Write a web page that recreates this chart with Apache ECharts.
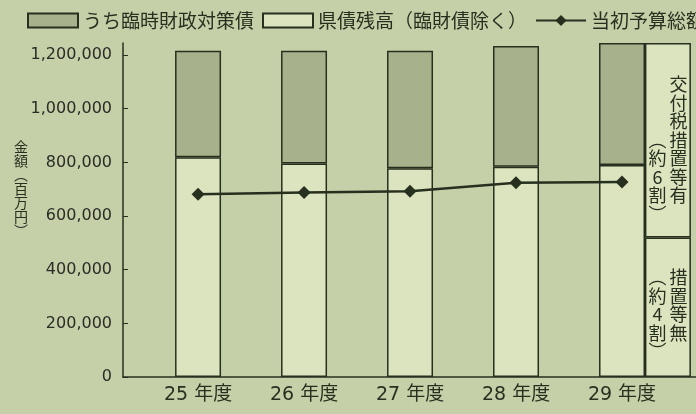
<!DOCTYPE html>
<html>
<head>
<meta charset="utf-8">
<script src="https://cdn.jsdelivr.net/npm/echarts@6/dist/echarts.min.js"></script>
<style>
  html, body { margin: 0; padding: 0; background: #c5cfa8; }
  #chart { width: 696px; height: 414px; }
</style>
</head>
<body>
<div id="chart"></div>
<script>
// 年度別 県債残高（百万円）
const years = ['25 年度', '26 年度', '27 年度', '28 年度', '29 年度']
const kensaiZandaka = [819000, 796000, 778000, 784000, 790000]   // 県債残高（臨財債除く）
const rinjiZaisei = [397000, 420000, 438000, 450000, 455000]     // うち臨時財政対策債
const toushoYosan = [681000, 688000, 692000, 724000, 727000]     // 当初予算総額
const yTicks = [0, 200000, 400000, 600000, 800000, 1000000, 1200000]

// 29年度の内訳
const breakdownIndex = 4
const sochiNashi = 520000   // 措置等無（約4割）
const sochiAri = 725000     // 交付税措置等有（約6割）

const dark = '#27301f'
const light = '#dce4bf'
const mid = '#a7b28d'
const jp = '"Noto Sans CJK JP", sans-serif'

// x軸は数値軸: 各年度が中心、29年度の内訳は隣に並べる
const xMin = -0.708
const xMax = 4.698
const boxShift = 0.433

// 値を先頭列に置いて y 方向に積み上げる（[値, 年度位置]）
const pairs = vals => vals.map((v, i) => [v, i])
const stackEncode = { x: 1, y: 0 }

function columnText(left, right) {
  return right.map((r, i) => '{l|' + (left[i] || '　') + '}{r|' + (r || '　') + '}').join('\n')
}

const colRich = {
  l: { width: 21, align: 'center', fontSize: 18, lineHeight: 18.5, color: dark, fontFamily: jp },
  r: { width: 21, align: 'center', fontSize: 18, lineHeight: 18.5, color: dark, fontFamily: jp }
}

const chart = echarts.init(document.getElementById('chart'))
const option = {
  animation: false,
  backgroundColor: '#c5cfa8',
  textStyle: { fontFamily: 'DejaVu Sans, "Noto Sans CJK JP", sans-serif' },
  title: {
    text: '金\n額\n︵\n百\n万\n円\n︶',
    left: 14,
    top: 140,
    padding: 0,
    textStyle: { fontSize: 14, lineHeight: 14, fontWeight: 'normal', color: dark, fontFamily: jp }
  },
  legend: {
    left: 27,
    top: 11,
    width: 1000,
    padding: 0,
    itemWidth: 50,
    itemHeight: 14,
    itemGap: 8,
    data: [
      { name: 'うち臨時財政対策債', icon: 'rect' },
      { name: '県債残高（臨財債除く）', icon: 'rect' },
      { name: '当初予算総額' }
    ],
    textStyle: { fontSize: 19, color: dark, fontFamily: jp }
  },
  grid: { left: 123, right: 0, top: 43, bottom: 37 },
  xAxis: [
    {
      type: 'value',
      min: xMin,
      max: xMax,
      splitLine: { show: false },
      axisLine: { onZero: false, lineStyle: { color: dark, width: 1.5 } },
      axisTick: { show: false },
      axisLabel: {
        customValues: years.map((_, i) => i),
        formatter: v => years[Math.round(v)],
        fontSize: 19,
        color: dark,
        margin: 9
      }
    },
    { type: 'value', min: xMin - boxShift, max: xMax - boxShift, show: false, axisLine: { onZero: false } }
  ],
  yAxis: {
    type: 'value',
    min: 0,
    max: 1245000,
    splitLine: { show: false },
    axisLine: { show: true, onZero: false, lineStyle: { color: dark, width: 1.5 } },
    axisTick: { show: true, inside: true, length: 5, customValues: yTicks, lineStyle: { color: dark } },
    axisLabel: {
      customValues: yTicks,
      formatter: v => v.toLocaleString('en-US'),
      fontSize: 16,
      color: '#2a2c26',
      margin: 11
    }
  },
  series: [
    {
      name: '県債残高（臨財債除く）',
      type: 'bar',
      stack: 'total',
      barWidth: 46,
      encode: stackEncode,
      data: pairs(kensaiZandaka),
      itemStyle: { color: light, borderColor: dark, borderWidth: 1.5 }
    },
    {
      name: 'うち臨時財政対策債',
      type: 'bar',
      stack: 'total',
      barWidth: 46,
      encode: stackEncode,
      data: pairs(rinjiZaisei),
      itemStyle: { color: mid, borderColor: dark, borderWidth: 1.5 }
    },
    {
      name: '措置等無',
      type: 'bar',
      xAxisIndex: 1,
      stack: 'box',
      barWidth: 46,
      encode: stackEncode,
      data: [[sochiNashi, breakdownIndex]],
      itemStyle: { color: light, borderColor: dark, borderWidth: 1.5 },
      label: {
        show: true,
        position: 'inside',
        offset: [0, 7],
        formatter: () => columnText(['︵', '約', '4', '割', '︶'], ['措', '置', '等', '無', '']),
        rich: colRich
      }
    },
    {
      name: '交付税措置等有',
      type: 'bar',
      xAxisIndex: 1,
      stack: 'box',
      barWidth: 46,
      encode: stackEncode,
      data: [[sochiAri, breakdownIndex]],
      itemStyle: { color: light, borderColor: dark, borderWidth: 1.5 },
      label: {
        show: true,
        position: 'inside',
        offset: [0, 9],
        formatter: () => columnText(['', '', '', '︵', '約', '6', '割', '︶'], ['交', '付', '税', '措', '置', '等', '有', '']),
        rich: colRich
      }
    },
    {
      name: '当初予算総額',
      type: 'line',
      z: 5,
      data: toushoYosan.map((v, i) => [i, v]),
      symbol: 'diamond',
      symbolSize: 13,
      lineStyle: { color: dark, width: 2.5 },
      itemStyle: { color: dark }
    }
  ]
}
chart.setOption(option)
</script>
</body>
</html>
